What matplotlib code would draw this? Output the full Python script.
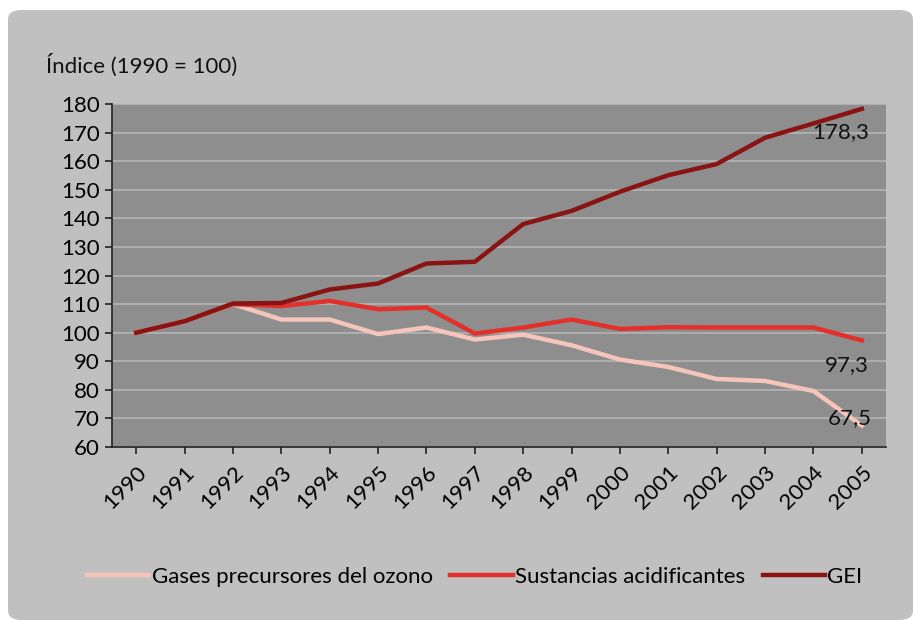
import matplotlib
matplotlib.use("Agg")
import matplotlib.pyplot as plt
from matplotlib.patches import FancyBboxPatch

years = [str(y) for y in range(1990, 2006)]
ozono = [100, 104, 110, 104.6, 104.6, 99.5, 101.8, 97.6, 99.3, 95.6, 90.6, 88.0, 83.8, 83.1, 79.6, 67.5]
acid = [100, 104, 110, 109.3, 111.1, 108.2, 108.8, 99.7, 101.8, 104.6, 101.3, 101.9, 101.8, 101.8, 101.8, 97.3]
gei = [100, 104, 110.2, 110.4, 115.1, 117.2, 124.2, 124.8, 138.0, 142.6, 149.3, 155.1, 159.0, 168.2, 173.2, 178.3]
names = ["Gases precursores del ozono", "Sustancias acidificantes", "GEI"]
end_labels = ["67,5", "97,3", "178,3"]

plt.rcParams['font.family'] = ['Lato', 'DejaVu Sans']
FS = 16

W, H = 913, 620
fig = plt.figure(figsize=(W / 100, H / 100), dpi=100)
fig.patch.set_facecolor('white')
panel = FancyBboxPatch((8 / W, 0), (W - 8) / W, (H - 10) / H,
                       boxstyle="round,pad=0,rounding_size=0.015",
                       transform=fig.transFigure, facecolor='#c0c0c0',
                       edgecolor='none', zorder=-10)
fig.patches.append(panel)

left, right, top, bottom = 112, 886, 104, 447
ax = fig.add_axes([left / W, 1 - bottom / H, (right - left) / W, (bottom - top) / H])
ax.set_zorder(2)
ax.set_facecolor('#8e8e8e')
x = list(range(len(years)))
colors = ['#f5c4bb', '#e3302b', '#8a1414']
for vals, c, n in zip([ozono, acid, gei], colors, names):
    ax.plot(x, vals, color=c, lw=3.2, label=n, solid_joinstyle='round')

ax.set_xlim(-0.5, len(years) - 0.5)
ax.set_ylim(60, 180)
ax.set_yticks(range(60, 181, 10))
ax.yaxis.grid(True, color='#b4b4b4', lw=1.2)
ax.set_axisbelow(True)
ax.set_xticks(x)
ax.set_xticklabels(years, rotation=45, ha='right', va='top', rotation_mode='anchor')
ax.tick_params(axis='x', length=5, width=1.2, color='#222222', labelsize=FS, pad=6)
ax.tick_params(axis='y', length=5, width=1.2, color='#222222', labelsize=FS, pad=4)
for s in ['top', 'right']:
    ax.spines[s].set_visible(False)
for s in ['left', 'bottom']:
    ax.spines[s].set_color('#222222')
    ax.spines[s].set_linewidth(1.2)

ax.text(15.15, gei[-1] - 8, end_labels[2], ha='right', va='center', fontsize=FS, color='#111111')
ax.text(15.15, acid[-1] - 8.5, end_labels[1], ha='right', va='center', fontsize=FS, color='#111111')
ax.text(15.2, ozono[-1] + 2.5, end_labels[0], ha='right', va='center', fontsize=FS, color='#111111')

fig.text(46 / W, 1 - 65 / H, "Índice (1990 = 100)", ha='left', va='center', fontsize=FS, color='#111111')

leg = fig.legend(loc='center', bbox_to_anchor=(0.52, 1 - 577 / H), ncol=3, frameon=False,
                 fontsize=FS, handlelength=2.8, handletextpad=0.1, columnspacing=0.8)

fig.savefig('out.png', dpi=100, facecolor=fig.get_facecolor())
